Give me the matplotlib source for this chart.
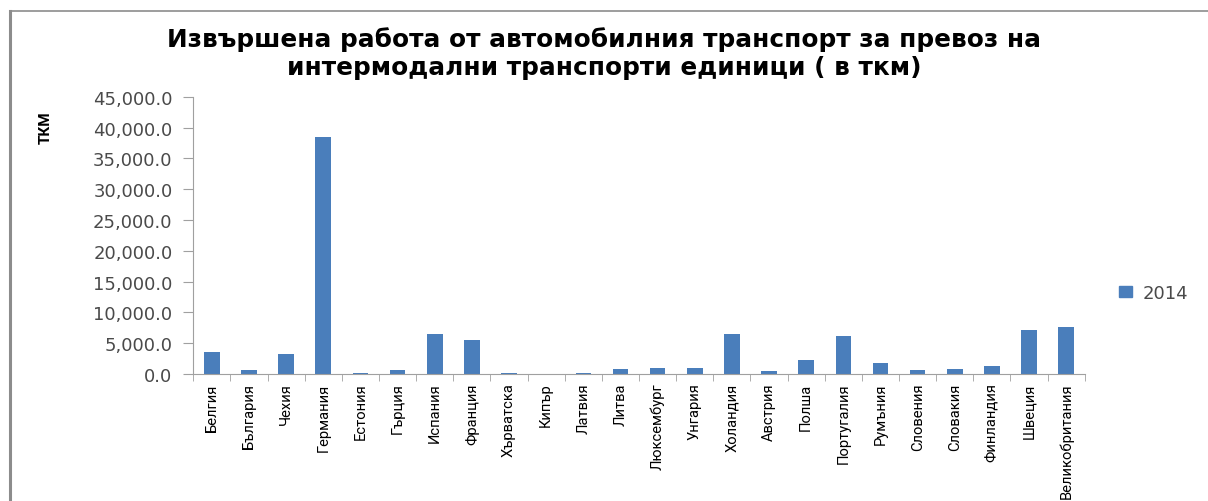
import matplotlib.pyplot as plt
import matplotlib.ticker as mticker
from matplotlib.lines import Line2D
from matplotlib.patches import Patch
import numpy as np

countries = ['Белгия', 'България', 'Чехия', 'Германия', 'Естония', 'Гърция', 'Испания',
             'Франция', 'Хърватска', 'Кипър', 'Латвия', 'Литва', 'Люксембург', 'Унгария',
             'Холандия', 'Австрия', 'Полша', 'Португалия', 'Румъния', 'Словения',
             'Словакия', 'Финландия', 'Швеция', 'Великобритания']
values_2014 = [3500, 700, 3200, 38500, 200, 700, 6540, 5470, 100, 80, 200, 800, 920, 920,
               6440, 430, 2220, 6170, 1790, 600, 810, 1300, 7140, 7580]

blue = '#4a7ebb'
narrow = ['Liberation Sans Narrow', 'Roboto', 'DejaVu Sans']

fig = plt.figure(figsize=(12.08, 5.02), dpi=100)
ax = fig.add_axes([0.160, 0.253, 0.738, 0.552])

x = np.arange(len(countries))
ax.bar(x, values_2014, width=0.42, color=blue)

ax.set_xlim(-0.5, len(countries) - 0.5)
ax.set_ylim(0, 45000)
ax.yaxis.set_major_locator(mticker.MultipleLocator(5000))
ax.yaxis.set_major_formatter(mticker.FuncFormatter(lambda v, p: f'{v:,.1f}'))

ax.set_xticks(x)
ax.set_xticklabels(countries, rotation=90, fontsize=10.6, family=narrow)
ax.set_xticks(np.arange(-0.5, len(countries)), minor=True)
ax.tick_params(axis='x', which='major', length=0, pad=6)
ax.tick_params(axis='x', which='minor', length=5, color='#a0a0a0')
ax.tick_params(axis='y', length=7, color='#a0a0a0', labelsize=13, labelcolor='#4a4a4a', pad=8)
for lab in ax.get_yticklabels():
    lab.set_family(['Verdana', 'DejaVu Sans'])

for s in ['top', 'right']:
    ax.spines[s].set_visible(False)
for s in ['left', 'bottom']:
    ax.spines[s].set_color('#a0a0a0')

fig.text(0.5, 0.893, 'Извършена работа от автомобилния транспорт за превоз на\n'
         'интермодални транспорти единици ( в ткм)',
         ha='center', va='center', fontsize=17.8, fontweight='bold',
         family='DejaVu Sans', linespacing=1.2)

fig.text(0.038, 0.745, 'ТКМ', rotation=90, ha='center', va='center', fontsize=11,
         fontweight='bold', family=narrow)

leg = fig.legend(handles=[Patch(color=blue, label='2014')], loc='center left',
                 bbox_to_anchor=(0.913, 0.415), frameon=False, fontsize=13,
                 handlelength=0.7, handleheight=0.6, handletextpad=0.6)
for t in leg.get_texts():
    t.set_color('#4a4a4a')

# outer frame (left and top edges visible)
fig.add_artist(Line2D([10 / 1208, 10 / 1208], [0, 1 - 12 / 502], transform=fig.transFigure,
                      color='#8c8c8c', lw=2.2))
fig.add_artist(Line2D([10 / 1208, 1], [1 - 12 / 502, 1 - 12 / 502], transform=fig.transFigure,
                      color='#8c8c8c', lw=1.2))

fig.savefig('out.png', dpi=100)
